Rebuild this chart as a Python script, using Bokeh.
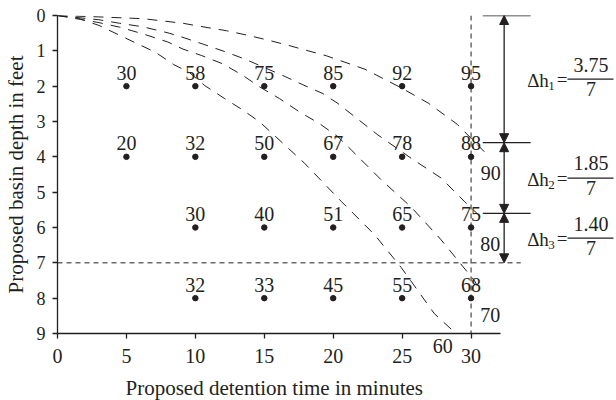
from bokeh.plotting import figure
from bokeh.models import (Range1d, FixedTicker, ColumnDataSource, LabelSet, Label, Arrow,
                          NormalHead, Title)
from bokeh.embed import file_html
from bokeh.resources import INLINE

# ---------------- data ----------------
pt_x = [5, 10, 15, 20, 25, 30,
        5, 10, 15, 20, 25, 30,
        10, 15, 20, 25, 30,
        10, 15, 20, 25, 30]
pt_y = [2] * 6 + [4] * 6 + [6] * 5 + [8] * 5
pt_val = ["30", "58", "75", "85", "92", "95",
          "20", "32", "50", "67", "78", "88",
          "30", "40", "51", "65", "75",
          "32", "33", "45", "55", "68"]

curve90_x = [0, 3.0, 6.2, 9.1, 10.7, 12.25, 13.8, 15.3, 16.7, 18.0, 19.5, 22.3, 24.9, 26.9, 29.0, 31.2]
curve90_y = [0, 0.04, 0.09, 0.22, 0.33, 0.43, 0.56, 0.70, 0.84, 0.98, 1.14, 1.52, 2.04, 2.48, 3.08, 3.95]

curve80_x = [0, 3.0, 4.5, 6.2, 8.1, 9.1, 10.56, 12.12, 13.57, 16.35, 17.8, 19.25, 20.34, 23.24, 25.65, 27.83, 29.51, 30.97]
curve80_y = [0, 0.12, 0.22, 0.32, 0.50, 0.62, 0.81, 1.02, 1.23, 1.70, 1.96, 2.21, 2.49, 3.38, 4.04, 4.60, 5.26, 5.80]

curve70_x = [0, 3.0, 4.5, 6.2, 8.0, 9.1, 10.43, 12.0, 13.46, 14.66, 16.1, 17.56, 19.0, 20.34, 21.3, 23.48, 25.65, 27.83, 29.04, 30.24, 30.72]
curve70_y = [0, 0.20, 0.33, 0.52, 0.75, 0.95, 1.13, 1.37, 1.70, 2.02, 2.35, 2.73, 3.06, 3.43, 3.80, 4.65, 5.42, 6.35, 6.93, 7.50, 7.84]

curve60_x = [0, 1.5, 3.0, 5.8, 7.1, 8.44, 9.59, 10.67, 12.12, 13.46, 14.66, 15.75, 16.72, 17.92, 20.58, 22.99, 24.93, 27.34, 28.9]
curve60_y = [0, 0.08, 0.28, 0.80, 1.04, 1.39, 1.62, 1.98, 2.35, 2.68, 3.01, 3.40, 3.75, 4.18, 5.26, 6.20, 7.13, 8.44, 9.0]

# labels of the curves; the last one ("60") sits just below the time axis
curve_label = ["90", "80", "70", "60"]
curve_label_x = [31.43, 31.40, 31.39, 27.95]
curve_label_y = [4.47, 6.48, 8.49, 9.35]

x_ticks = [0, 5, 10, 15, 20, 25, 30]
y_ticks = [0, 1, 2, 3, 4, 5, 6, 7, 8, 9]
x_title = "Proposed detention time in minutes"
y_title = "Proposed basin depth in feet"

design_depth = 7.0
design_time = 30
max_depth = 9
dh_edges = [0, 3.6, 5.6, 7.0]
dh_sub = ["1", "2", "3"]
dh_num = ["3.75", "1.85", "1.40"]
dh_den = ["7", "7", "7"]

# ---------------- layout / style ----------------
W, H = 616, 400
BL, BR, BT, BB = 56, 0, 15, 67
X_END = 40.55
FONT = "Liberation Serif"
INK = "#231f20"
xscale = (W - BL - BR) / X_END  # px per minute

p = figure(width=W, height=H, x_range=Range1d(0, X_END), y_range=Range1d(max_depth, 0),
           output_backend="svg", toolbar_location=None,
           min_border_left=BL, min_border_right=BR, min_border_top=BT, min_border_bottom=BB)
p.outline_line_color = None
p.grid.visible = False
p.background_fill_color = "white"
p.border_fill_color = "white"

for ax in (p.xaxis[0], p.yaxis[0]):
    ax.axis_line_color = INK
    ax.axis_line_width = 1.3
    ax.major_tick_line_color = INK
    ax.major_tick_line_width = 1.3
    ax.major_tick_out = 5
    ax.major_tick_in = 0
    ax.minor_tick_line_color = None
    ax.major_label_text_font = FONT
    ax.major_label_text_color = INK
    ax.axis_label_text_font = FONT
    ax.axis_label_text_font_style = "normal"
    ax.axis_label_text_color = INK
    ax.axis_label_text_font_size = "21px"
    ax.axis_label_text_line_height = 1.0

p.xaxis.ticker = FixedTicker(ticks=x_ticks)
p.xaxis.bounds = (0, 32.15)
p.xaxis.major_label_text_font_size = "20px"
p.xaxis.major_label_standoff = 10

p.yaxis.ticker = FixedTicker(ticks=y_ticks)
p.yaxis.bounds = (0, max_depth)
p.yaxis.major_label_text_font_size = "18px"
p.yaxis.major_label_standoff = 7
p.yaxis.axis_label = y_title
p.yaxis.axis_label_standoff = 6

# "60" curve label lies below the axis line, outside the frame: a label in the bottom
# panel (panel annotations are not clipped), placed with the data scales
p.add_layout(Label(x=curve_label_x[3], y=curve_label_y[3], text=curve_label[3],
                   text_align="center", text_baseline="alphabetic",
                   text_font=FONT, text_font_size="20px", text_color=INK), "below")

# x-axis title, left-aligned under the ticks like the reference
p.add_layout(Title(text=x_title, align="left", offset=68, standoff=-12,
                   text_font=FONT, text_font_size="21px", text_font_style="normal",
                   text_color=INK), "below")

# curves
for cx, cy in ((curve90_x, curve90_y), (curve80_x, curve80_y),
               (curve70_x, curve70_y), (curve60_x, curve60_y)):
    p.line(cx, cy, line_color=INK, line_width=1, line_dash="10 8")

# reference dashed lines
p.line([0, 33.6], [design_depth, design_depth], line_color=INK, line_width=1, line_dash="5 4")
p.line([design_time, design_time], [0, max_depth], line_color=INK, line_width=1, line_dash="5 4")

# data points and labels
pts = ColumnDataSource(dict(x=pt_x, y=pt_y, t=pt_val))
p.scatter("x", "y", source=pts, size=5.5, color=INK)
p.add_layout(LabelSet(x="x", y="y", text="t", source=pts, text_align="center",
                      text_baseline="alphabetic", y_offset=6.5, text_font=FONT,
                      text_font_size="20px", text_color=INK))

# curve labels inside the frame
for t, lx, ly in zip(curve_label[:3], curve_label_x[:3], curve_label_y[:3]):
    p.add_layout(Label(x=lx, y=ly, text=t, text_align="center", text_baseline="alphabetic",
                       text_font=FONT, text_font_size="20px", text_color=INK))

# delta-h dimension arrows
arrow_x = 32.40
p.segment(x0=[30.85] * 3, y0=dh_edges[:3], x1=[34.32] * 3, y1=dh_edges[:3],
          line_color=INK, line_width=1.3)
arr = ColumnDataSource(dict(x0=[arrow_x] * 3, y0=dh_edges[:3], x1=[arrow_x] * 3, y1=dh_edges[1:]))
p.add_layout(Arrow(x_start="x0", y_start="y0", x_end="x1", y_end="y1", source=arr,
                   line_color=INK, line_width=1.3,
                   start=NormalHead(size=9, fill_color=INK, line_color=INK, line_width=1),
                   end=NormalHead(size=9, fill_color=INK, line_color=INK, line_width=1)))

mids = [(a + b) / 2 for a, b in zip(dh_edges[:-1], dh_edges[1:])]
n = len(mids)


def dh_labels(texts, dx, dy, size, align):
    src = ColumnDataSource(dict(x=[arrow_x] * n, y=mids, t=texts))
    p.add_layout(LabelSet(x="x", y="y", text="t", source=src, x_offset=dx, y_offset=dy,
                          text_align=align, text_baseline="alphabetic", text_font=FONT,
                          text_font_size=size, text_color=INK))


dh_labels(["Δh"] * n, 23, -7.7, "19px", "left")
dh_labels(dh_sub, 44, -11, "13px", "left")
dh_labels(["="] * n, 52.5, -7.2, "19px", "left")
dh_labels(dh_num, 86.8, 7.6, "20px", "center")
dh_labels(dh_den, 86.8, -16.7, "20px", "center")
p.rect(x=[arrow_x + 86.5 / xscale] * n, y=mids, width=46, height=1.2,
       width_units="screen", height_units="screen", fill_color=INK, line_color=None)

open("out.html", "w").write(file_html(p, INLINE))
